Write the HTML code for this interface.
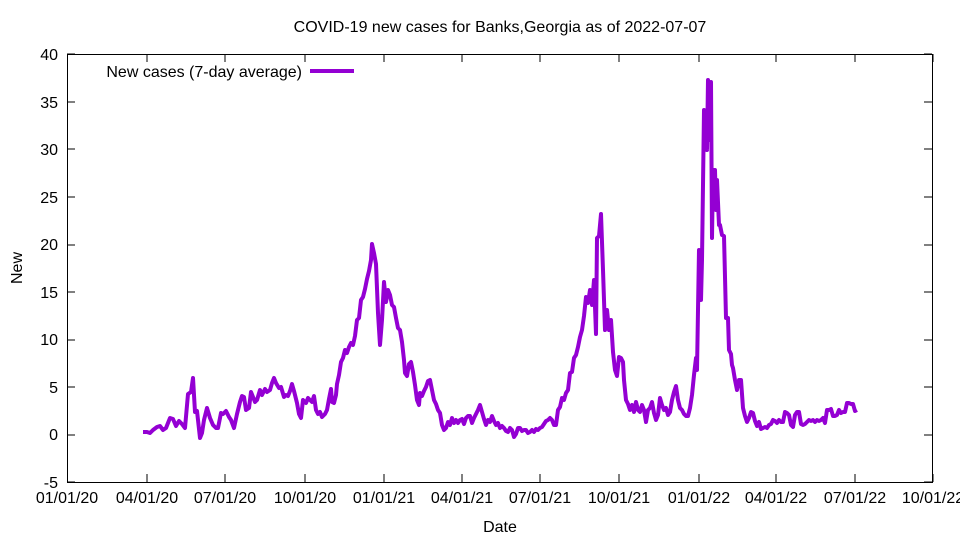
<!DOCTYPE html>
<html><head><style>body{margin:0;background:#fff}svg{display:block}text{font-family:"Liberation Sans",sans-serif;font-size:16px;fill:#000}</style></head>
<body>
<svg width="960" height="540" viewBox="0 0 960 540">
<rect width="960" height="540" fill="#fff"/>
<text x="500" y="32" text-anchor="middle">COVID-19 new cases for Banks,Georgia as of 2022-07-07</text>
<g stroke="#000" stroke-width="1">
<rect x="67.5" y="54.5" width="865" height="428" fill="none"/>
<path d="M67 435h8M932 435h-8M67 387h8M932 387h-8M67 340h8M932 340h-8M67 292h8M932 292h-8M67 245h8M932 245h-8M67 197h8M932 197h-8M67 149h8M932 149h-8M67 102h8M932 102h-8M67 482h8M932 482h-8M67 54h8M932 54h-8"/>
<path d="M147 482v-8M147 54v8M225 482v-8M225 54v8M305 482v-8M305 54v8M384 482v-8M384 54v8M462 482v-8M462 54v8M540 482v-8M540 54v8M619 482v-8M619 54v8M699 482v-8M699 54v8M776 482v-8M776 54v8M855 482v-8M855 54v8M933 482v-8M933 54v8"/>
</g>
<g text-anchor="end">
<text x="58" y="488">-5</text><text x="58" y="440">0</text><text x="58" y="393">5</text><text x="58" y="345">10</text><text x="58" y="298">15</text><text x="58" y="250">20</text><text x="58" y="203">25</text><text x="58" y="155">30</text><text x="58" y="108">35</text><text x="58" y="60">40</text>
</g>
<g text-anchor="middle">
<text x="67" y="503">01/01/20</text><text x="147" y="503">04/01/20</text><text x="225" y="503">07/01/20</text><text x="305" y="503">10/01/20</text><text x="384" y="503">01/01/21</text><text x="462" y="503">04/01/21</text><text x="540" y="503">07/01/21</text><text x="619" y="503">10/01/21</text><text x="699" y="503">01/01/22</text><text x="776" y="503">04/01/22</text><text x="855" y="503">07/01/22</text><text x="933" y="503">10/01/22</text>
<text x="500" y="532">Date</text>
<text transform="translate(22,268) rotate(-90)">New</text>
</g>
<text x="302" y="77" text-anchor="end">New cases (7-day average)</text>
<path d="M310 71H354" stroke="#9400d3" stroke-width="4"/>
<polyline fill="none" stroke="#9400d3" stroke-width="4" stroke-linejoin="round" points="143,432 147,432 150,433 153,430 157,427 160,426 163,430 166,428 170,418 173,419 176,426 179,421 182,424 185,428 188,394 191,392 193,378 195,412 197,411 200,438 202,433 204,420 207,408 210,418 213,425 216,428 218,428 221,413 223,414 226,411 229,417 231,420 234,428 237,414 240,402 242,396 244,397 246,410 249,408 251,392 253,397 255,402 257,400 260,390 262,395 265,389 267,392 270,390 272,383 274,378 276,383 279,388 281,387 284,397 286,395 288,396 290,391 292,384 294,391 297,403 299,414 301,418 303,400 306,403 308,398 310,400 312,402 314,396 316,410 318,414 320,412 322,417 325,414 327,410 329,399 331,389 332,402 334,403 336,395 337,384 339,375 341,362 343,358 345,350 347,353 349,347 351,343 353,345 355,336 357,320 359,318 361,300 363,297 365,289 367,279 369,271 371,260 372,244 374,253 376,264 378,313 380,345 382,320 384,282 386,302 388,290 390,295 392,305 394,307 396,318 398,328 400,330 402,342 404,360 405,373 407,376 409,364 411,362 413,372 415,385 417,400 419,405 420,393 422,396 424,391 426,387 428,381 430,380 432,390 434,400 436,404 438,410 440,413 442,425 444,430 446,428 448,422 450,425 452,418 454,423 456,420 458,423 460,420 462,419 464,424 466,418 468,416 470,416 472,423 474,418 476,414 478,410 480,405 482,412 484,419 486,425 488,420 490,422 492,416 494,421 496,425 498,423 500,428 502,426 504,428 506,431 508,432 510,428 512,430 514,437 516,434 518,428 520,428 522,431 524,430 526,430 528,433 530,432 532,430 534,432 536,429 538,430 540,428 542,427 544,424 546,421 548,420 550,418 552,420 554,425 556,425 558,410 560,407 562,398 564,400 566,393 568,390 570,373 572,372 574,358 576,355 578,347 580,337 582,330 584,316 586,297 588,303 590,290 592,305 594,280 596,334 597,238 599,236 601,214 603,270 605,330 607,310 609,330 611,320 613,352 615,370 617,376 619,357 621,358 623,362 624,380 626,400 628,404 630,410 632,405 634,412 636,402 638,410 640,412 642,405 644,410 646,422 648,410 650,408 652,402 654,413 656,420 658,415 660,398 662,405 664,410 666,408 668,415 670,412 672,400 674,392 676,386 678,400 680,408 682,410 684,414 686,416 688,416 690,408 692,395 694,375 696,358 697,370 698,310 699,250 700,258 701,300 702,260 704,110 705,140 706,120 707,150 708,80 710,140 711,82 712,238 713,170 715,170 716,210 717,180 719,225 720,225 722,235 724,236 726,318 728,318 729,350 731,354 732,365 733,368 735,380 737,390 739,380 741,380 743,408 745,416 747,422 749,418 751,412 753,413 755,421 757,426 759,422 761,429 763,428 765,427 767,428 769,425 771,424 773,420 775,421 777,423 779,420 781,422 783,422 785,412 787,413 789,415 791,425 793,427 795,415 797,412 799,412 801,424 803,425 805,424 807,422 809,420 811,421 813,420 815,422 817,420 819,421 821,420 823,418 825,423 827,410 829,410 831,409 833,416 835,416 837,415 839,410 841,413 843,412 845,412 847,403 849,403 851,404 853,404 855,411 857,410"/>
</svg>
</body></html>
